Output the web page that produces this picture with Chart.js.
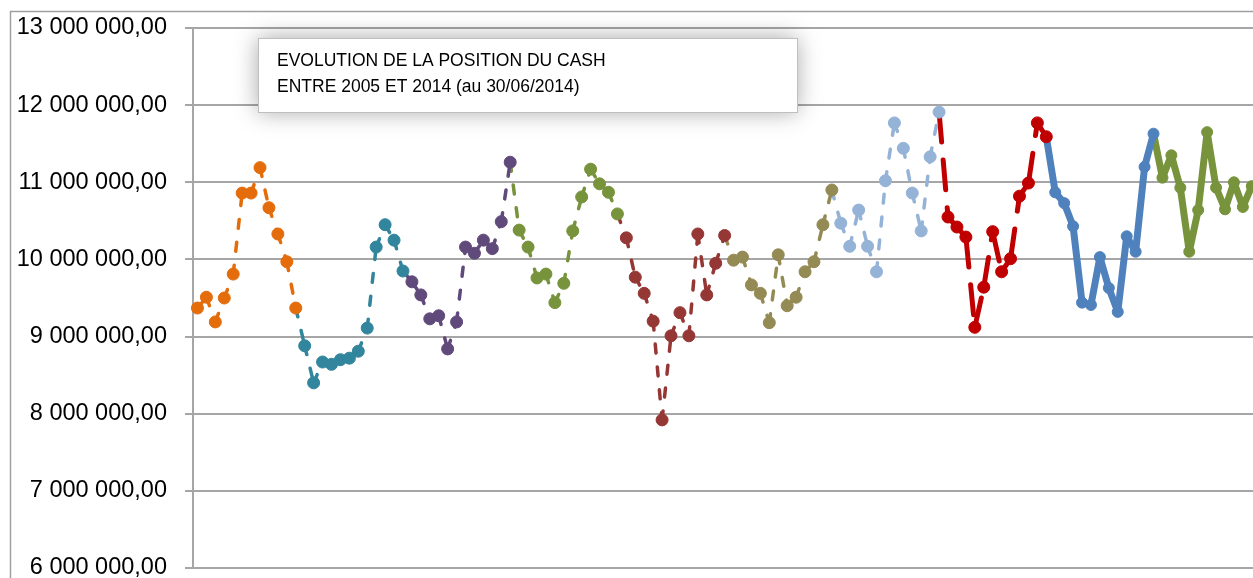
<!DOCTYPE html>
<html><head><meta charset="utf-8">
<script src="https://cdn.jsdelivr.net/npm/chart.js@4.4.1/dist/chart.umd.min.js"></script>
<style>
html,body{margin:0;padding:0;overflow:hidden;background:#fff;width:1253px;height:578px}
#wrap{position:absolute;left:0;top:0;width:1290px;height:600px}
</style></head>
<body><div id="wrap"><canvas id="c"></canvas></div>
<script>
// ---- data ----
const years = ['2005','2006','2007','2008','2009','2010','2011','2012','2013','2014'];
const months = ['01','02','03','04','05','06','07','08','09','10','11','12'];
const v2005 = [9370000, 9510000, 9190000, 9500000, 9810000, 10860000, 10860000, 11190000, 10670000, 10330000, 9970000, 9370000];
const v2006 = [8880000, 8400000, 8670000, 8640000, 8700000, 8720000, 8810000, 9110000, 10160000, 10450000, 10250000, 9850000];
const v2007 = [9710000, 9540000, 9230000, 9270000, 8840000, 9190000, 10160000, 10080000, 10250000, 10140000, 10490000, 11260000];
const v2008 = [10380000, 10160000, 9760000, 9810000, 9440000, 9690000, 10370000, 10810000, 11170000, 10980000, 10870000, 10590000];
const v2009 = [10280000, 9770000, 9560000, 9200000, 7920000, 9010000, 9310000, 9010000, 10330000, 9540000, 9950000, 10310000];
const v2010 = [9990000, 10030000, 9670000, 9560000, 9180000, 10060000, 9400000, 9510000, 9840000, 9970000, 10450000, 10900000];
const v2011 = [10470000, 10170000, 10640000, 10170000, 9840000, 11020000, 11770000, 11440000, 10860000, 10370000, 11330000, 11910000];
const v2012 = [10550000, 10420000, 10290000, 9120000, 9640000, 10360000, 9840000, 10010000, 10820000, 10990000, 11770000, 11590000];
const v2013 = [10870000, 10730000, 10430000, 9440000, 9410000, 10030000, 9630000, 9320000, 10300000, 10100000, 11200000, 11630000];
const v2014 = [11060000, 11350000, 10930000, 10100000, 10640000, 11650000, 10930000, 10650000, 11000000, 10680000, 10950000, 10900000];
const yTicks = [6000000, 7000000, 8000000, 9000000, 10000000, 11000000, 12000000, 13000000];
const titleLines = ['EVOLUTION DE LA POSITION DU CASH', 'ENTRE 2005 ET 2014 (au 30/06/2014)'];

// ---- styles ----
const colors = ['#E46C0A','#31859C','#604A7B','#77933C','#953735','#948A54','#95B3D7','#C00000','#4F81BD','#77933C'];
const shortDash = {w: 3.5, dash: [9, 14], r: 6};
const longDash = {w: 5, dash: [30, 18], r: 6};
const solid = {w: 7, dash: [], r: 5.5};
const styles = [shortDash, shortDash, shortDash, shortDash, shortDash, shortDash, shortDash, longDash, solid, solid];

const allYears = [v2005, v2006, v2007, v2008, v2009, v2010, v2011, v2012, v2013, v2014];
const labels = [];
years.forEach(y => months.forEach(m => labels.push(m + '/' + y)));

const datasets = allYears.map((vals, k) => {
  const data = new Array(labels.length).fill(null);
  const start = k * 12;
  vals.forEach((v, i) => { data[start + i] = v; });
  if (k > 0) data[start - 1] = allYears[k - 1][vals.length - 1];
  const st = styles[k];
  return {
    label: years[k],
    data,
    borderColor: colors[k],
    backgroundColor: colors[k],
    pointBackgroundColor: colors[k],
    pointBorderColor: colors[k],
    borderWidth: st.w,
    borderDash: st.dash,
    borderCapStyle: 'round',
    borderJoinStyle: 'round',
    pointRadius: c => (k > 0 && c.dataIndex === start - 1) ? 0 : st.r,
    pointBorderWidth: 1,
    pointHoverRadius: st.r,
    tension: 0,
    spanGaps: false,
    segment: st.dash.length ? { borderDashOffset: c => (c.p0DataIndex % 2) * 0.001 } : undefined
  };
});

function fmt(v) {
  const s = Math.round(v).toString();
  return s.replace(/\B(?=(\d{3})+(?!\d))/g, ' ') + ',00';
}

const framePlugin = {
  id: 'frame',
  beforeDraw(chart) {
    const ctx = chart.ctx;
    ctx.save();
    ctx.fillStyle = '#fff';
    ctx.fillRect(0, 0, chart.width, chart.height);
    ctx.strokeStyle = '#a0a0a0';
    ctx.lineWidth = 1.5;
    ctx.strokeRect(10.5, 11.5, chart.width + 50, chart.height + 50);
    ctx.restore();
  }
};

const titleBox = {
  id: 'titleBox',
  beforeDatasetsDraw(chart) {
    const ctx = chart.ctx;
    const x = 258, y = 38, w = 539, h = 74;
    ctx.save();
    ctx.shadowColor = 'rgba(0,0,0,0.35)';
    ctx.shadowBlur = 22;
    ctx.fillStyle = '#fff';
    ctx.fillRect(x, y, w, h);
    ctx.restore();
    ctx.save();
    ctx.strokeStyle = '#bfbfbf';
    ctx.lineWidth = 1;
    ctx.strokeRect(x + 0.5, y + 0.5, w, h);
    ctx.fillStyle = '#000';
    ctx.font = '17.5px "Liberation Sans", Arial, sans-serif';
    ctx.textBaseline = 'middle';
    ctx.fillText(titleLines[0], 277, 61);
    ctx.fillText(titleLines[1], 277, 87);
    ctx.restore();
  }
};

new Chart(document.getElementById('c'), {
  type: 'line',
  data: { labels, datasets },
  options: {
    responsive: true,
    maintainAspectRatio: false,
    animation: false,
    devicePixelRatio: 1,
    layout: { padding: { left: 0, top: 28, right: 24.8, bottom: 32 } },
    plugins: { legend: { display: false }, tooltip: { enabled: false }, title: { display: false } },
    scales: {
      x: { type: 'category', display: false, offset: true },
      y: {
        min: yTicks[0], max: yTicks[yTicks.length - 1],
        afterBuildTicks: s => { s.ticks = yTicks.map(v => ({ value: v })); },
        afterFit: s => { s.width = 193; },
        ticks: {
          padding: 18, color: '#000',
          font: { family: '"Liberation Sans", Arial, sans-serif', size: 23.5, lineHeight: 0.8 },
          callback: v => fmt(v)
        },
        grid: { color: '#a6a6a6', lineWidth: 2, tickLength: 8, drawTicks: true },
        border: { color: '#a6a6a6', width: 2 }
      }
    }
  },
  plugins: [framePlugin, titleBox]
});
</script>
</body></html>
